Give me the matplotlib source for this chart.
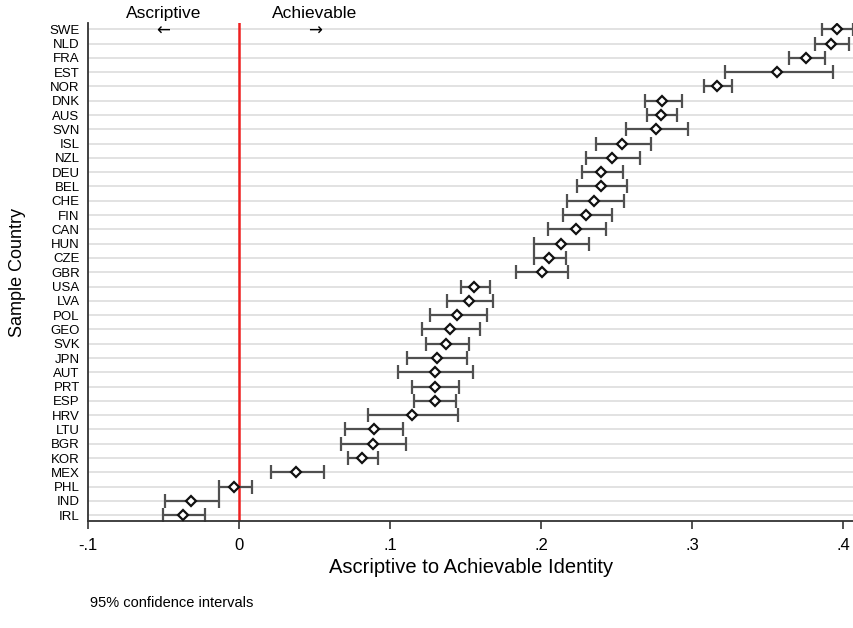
import matplotlib.pyplot as plt
import numpy as np

plt.rcParams['font.family'] = ['Liberation Sans', 'DejaVu Sans']

# countries from top to bottom
countries = ["SWE", "NLD", "FRA", "EST", "NOR", "DNK", "AUS", "SVN", "ISL", "NZL",
             "DEU", "BEL", "CHE", "FIN", "CAN", "HUN", "CZE", "GBR", "USA", "LVA",
             "POL", "GEO", "SVK", "JPN", "AUT", "PRT", "ESP", "HRV", "LTU", "BGR",
             "KOR", "MEX", "PHL", "IND", "IRL"]
estimate = [0.3955, 0.3917, 0.375, 0.3563, 0.316, 0.280, 0.2791, 0.276, 0.2537, 0.2468,
            0.2396, 0.2396, 0.2347, 0.2294, 0.2232, 0.2128, 0.205, 0.2004, 0.1553, 0.1522,
            0.1444, 0.1393, 0.1371, 0.1312, 0.1294, 0.1294, 0.1294, 0.1146, 0.0894, 0.0885,
            0.0814, 0.0378, -0.0033, -0.0317, -0.0372]
ci_low = [0.386, 0.381, 0.3638, 0.3216, 0.3075, 0.2687, 0.270, 0.2563, 0.236, 0.2294,
          0.2272, 0.2239, 0.2168, 0.2146, 0.2048, 0.1955, 0.195, 0.1836, 0.1467, 0.1378,
          0.1267, 0.1208, 0.1234, 0.1113, 0.1055, 0.1143, 0.1157, 0.0856, 0.0703, 0.0675,
          0.0719, 0.021, -0.0135, -0.0489, -0.0502]
ci_high = [0.4066, 0.404, 0.3875, 0.3933, 0.3263, 0.2929, 0.2898, 0.297, 0.2725, 0.2652,
           0.2541, 0.257, 0.2546, 0.2466, 0.2427, 0.2316, 0.2163, 0.2177, 0.1659, 0.1681,
           0.1641, 0.1597, 0.1522, 0.1508, 0.1548, 0.1453, 0.1438, 0.1447, 0.1088, 0.1104,
           0.092, 0.0564, 0.0084, -0.0131, -0.0226]
xticks = [-0.1, 0, 0.1, 0.2, 0.3, 0.4]
xticklabels = ["-.1", "0", ".1", ".2", ".3", ".4"]

est = np.array(estimate)
lo = np.array(ci_low)
hi = np.array(ci_high)
ypos = np.arange(len(countries))

fig = plt.figure(figsize=(8.54, 6.28), dpi=100)
ax = fig.add_axes([0.103, 0.170, 0.897, 0.793])

for y in ypos:
    ax.axhline(y, color="#e2e2e2", lw=1.4, zorder=0)
ax.axvline(0, color="#ee2020", lw=1.8, zorder=1)

ax.errorbar(est, ypos, xerr=[est - lo, hi - est], fmt="none", ecolor="#505050",
            elinewidth=1.6, capsize=5, capthick=1.6, zorder=2)
ax.plot(est, ypos, "D", ms=5, mfc="white", mec="#111111", mew=1.6, zorder=3)

ax.set_xlim(-0.1, 0.407)
ax.set_ylim(len(countries) - 0.58, -0.42)
ax.set_yticks(ypos)
ax.set_yticklabels(countries, fontsize=9.5)
ax.tick_params(axis="y", length=0, pad=6)
ax.set_xticks(xticks)
ax.set_xticklabels(xticklabels, fontsize=12)
ax.tick_params(axis="x", length=6, width=1.2, color="#333333", pad=6)

for s in ["top", "right"]:
    ax.spines[s].set_visible(False)
for s in ["left", "bottom"]:
    ax.spines[s].set_color("#333333")
    ax.spines[s].set_linewidth(1.3)

ax.set_xlabel("Ascriptive to Achievable Identity", fontsize=14.5, labelpad=4)
ax.set_ylabel("Sample Country", fontsize=13, labelpad=17)

ax.text(-0.05, 1.005, "Ascriptive", transform=ax.get_xaxis_transform(),
        ha="center", va="bottom", fontsize=12.5)
ax.text(0.05, 1.005, "Achievable", transform=ax.get_xaxis_transform(),
        ha="center", va="bottom", fontsize=12.5)
ax.text(-0.05, 0.1, "\u2190", ha="center", va="center", fontsize=12,
        family=["DejaVu Sans"])
ax.text(0.05, 0.1, "\u2192", ha="center", va="center", fontsize=12,
        family=["DejaVu Sans"])

fig.text(0.105, 0.04, "95% confidence intervals", fontsize=10.5, ha="left", va="center")

fig.savefig("out.png", dpi=100)
